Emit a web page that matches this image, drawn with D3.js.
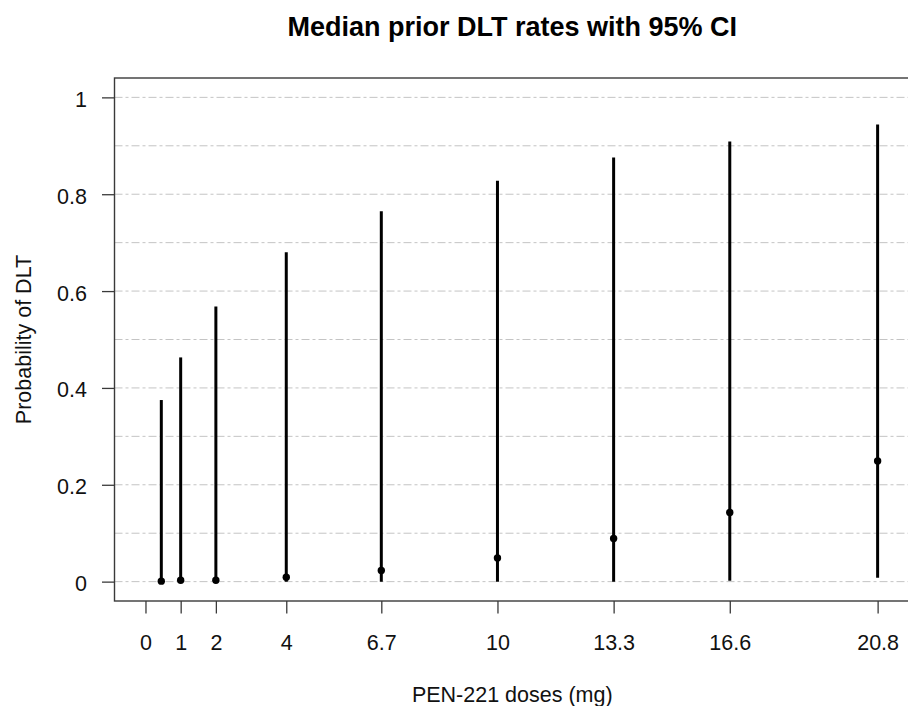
<!DOCTYPE html>
<html>
<head>
<meta charset="utf-8">
<script src="https://cdn.jsdelivr.net/npm/d3@7"></script>
<style>
  html, body { margin: 0; padding: 0; background: #fff; }
  svg { display: block; font-family: "Liberation Sans", Arial, sans-serif; }
</style>
</head>
<body>
<svg id="chart" width="908" height="706"></svg>
<script>
// ---- data ----
const doses   = [0.45, 1, 2, 4, 6.7, 10, 13.3, 16.6, 20.8];
const lower   = [0, 0, 0, 0, 0, 0, 0, 0.002, 0.008];
const upper   = [0.375, 0.463, 0.568, 0.680, 0.765, 0.828, 0.876, 0.909, 0.944];
const medians = [0.001, 0.003, 0.003, 0.009, 0.023, 0.049, 0.089, 0.143, 0.249];
const xTicks  = [0, 1, 2, 4, 6.7, 10, 13.3, 16.6, 20.8];
const xTickLabels = ["0", "1", "2", "4", "6.7", "10", "13.3", "16.6", "20.8"];
const yTicks  = [0, 0.2, 0.4, 0.6, 0.8, 1];
const yTickLabels = ["0", "0.2", "0.4", "0.6", "0.8", "1"];
const gridY   = [0, 0.1, 0.2, 0.3, 0.4, 0.5, 0.6, 0.7, 0.8, 0.9, 1.0];
const titleText = "Median prior DLT rates with 95% CI";
const xLabel = "PEN-221 doses (mg)";
const yLabel = "Probability of DLT";

(function () {
const svg = d3.select("#chart");
const pL = 114.5, pR = 910, pT = 78, pB = 601;

const x = d3.scaleLinear().domain([-0.88, 21.72]).range([pL, pR]);
const y = d3.scaleLinear().domain([-0.04, 1.04]).range([pB, pT]);

// grid
svg.append("g").selectAll("line").data(gridY).join("line")
  .attr("x1", pL).attr("x2", pR)
  .attr("y1", d => y(d)).attr("y2", d => y(d))
  .attr("stroke", "#c4c4c4").attr("stroke-width", 1)
  .attr("stroke-dasharray", "8,3,3,3");

// error bars
const data = doses.map((d, i) => ({ dose: d, lo: lower[i], hi: upper[i], med: medians[i] }));
svg.append("g").selectAll("line").data(data).join("line")
  .attr("x1", d => x(d.dose)).attr("x2", d => x(d.dose))
  .attr("y1", d => y(d.lo)).attr("y2", d => y(d.hi))
  .attr("stroke", "#000").attr("stroke-width", 3);

svg.append("g").selectAll("circle").data(data).join("circle")
  .attr("cx", d => x(d.dose)).attr("cy", d => y(d.med))
  .attr("r", 3.7).attr("fill", "#000");

// box (right side off-canvas)
svg.append("rect")
  .attr("x", pL).attr("y", pT)
  .attr("width", pR - pL).attr("height", pB - pT)
  .attr("fill", "none").attr("stroke", "#3a3a3a").attr("stroke-width", 1.4);

// axes
const xAxis = d3.axisBottom(x).tickValues(xTicks)
  .tickFormat((d, i) => xTickLabels[i]).tickSize(12.5).tickPadding(21).tickSizeOuter(0);
const gx = svg.append("g").attr("transform", `translate(0,${pB})`).call(xAxis);
gx.select(".domain").remove();
gx.selectAll(".tick line").attr("stroke", "#3a3a3a").attr("stroke-width", 1.3);
gx.selectAll(".tick text").attr("font-size", 21.5).attr("fill", "#111")
  .attr("font-family", "Liberation Sans, Arial, sans-serif");

const yAxis = d3.axisLeft(y).tickValues(yTicks)
  .tickFormat((d, i) => yTickLabels[i]).tickSize(12.5).tickPadding(15).tickSizeOuter(0);
const gy = svg.append("g").attr("transform", `translate(${pL},0)`).call(yAxis);
gy.select(".domain").remove();
gy.selectAll(".tick line").attr("stroke", "#3a3a3a").attr("stroke-width", 1.3);
gy.selectAll(".tick text").attr("font-size", 21.5).attr("fill", "#111")
  .attr("font-family", "Liberation Sans, Arial, sans-serif").attr("dy", "0.42em");

// titles
svg.append("text").attr("x", (pL + pR) / 2).attr("y", 36)
  .attr("text-anchor", "middle").attr("font-weight", "bold").attr("font-size", 27)
  .attr("fill", "#000").text(titleText);

svg.append("text").attr("x", (pL + pR) / 2).attr("y", 702)
  .attr("text-anchor", "middle").attr("font-size", 21.5).attr("fill", "#111").text(xLabel);

svg.append("text")
  .attr("transform", `translate(31,${(pT + pB) / 2}) rotate(-90)`)
  .attr("text-anchor", "middle").attr("font-size", 21.5).attr("fill", "#111").text(yLabel);
})();
</script>
</body>
</html>
